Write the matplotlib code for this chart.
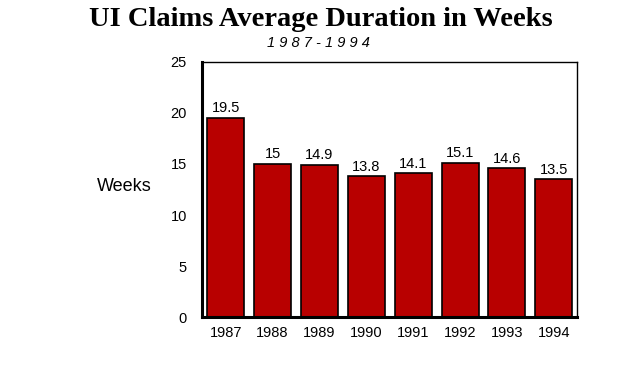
import matplotlib
matplotlib.use("Agg")
import matplotlib.pyplot as plt

years = ["1987", "1988", "1989", "1990", "1991", "1992", "1993", "1994"]
weeks = [19.5, 15, 14.9, 13.8, 14.1, 15.1, 14.6, 13.5]
value_labels = ["19.5", "15", "14.9", "13.8", "14.1", "15.1", "14.6", "13.5"]
yticks = [0, 5, 10, 15, 20, 25]

fig = plt.figure(figsize=(6.4, 3.84), dpi=100)
ax = fig.add_axes([0.316, 0.174, 0.586, 0.665])

x = list(range(len(years)))
ax.bar(x, weeks, width=0.79, color="#B80000", edgecolor="black", linewidth=1.2, zorder=2)
for xi, v, lab in zip(x, weeks, value_labels):
    ax.text(xi, v + 0.25, lab, ha="center", va="bottom", fontsize=10.5,
            family="Liberation Sans")

ax.set_xlim(-0.5, 7.5)
ax.set_ylim(0, 25)
ax.set_yticks(yticks)
ax.set_xticks(x)
ax.set_xticklabels(years)
ax.tick_params(length=0, labelsize=10.5, pad=6)
for lab in ax.get_xticklabels() + ax.get_yticklabels():
    lab.set_family("Liberation Sans")
ax.tick_params(axis="y", pad=11)
ax.spines["left"].set_linewidth(2.2)
ax.spines["bottom"].set_linewidth(2.2)
ax.spines["top"].set_linewidth(1)
ax.spines["right"].set_linewidth(1)

fig.text(0.502, 0.948, "UI Claims Average Duration in Weeks", ha="center", va="center",
         fontsize=20.5, fontweight="bold", family="Liberation Serif")
fig.text(0.497, 0.888, "1 9 8 7 - 1 9 9 4", ha="center", va="center",
         fontsize=10.5, style="italic", family="Liberation Sans")
fig.text(0.194, 0.515, "Weeks", ha="center", va="center", fontsize=13,
         family="Liberation Sans")

fig.savefig("out.png", dpi=100, facecolor="white")
